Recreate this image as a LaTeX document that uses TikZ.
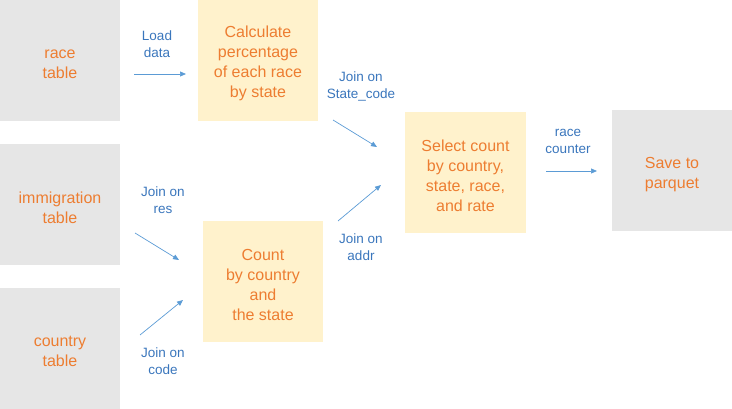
\documentclass[tikz,border=0pt]{standalone}
\usepackage{fontspec}
\setmainfont{Liberation Sans}
\usetikzlibrary{arrows.meta}
\definecolor{boxgray}{HTML}{E6E6E6}
\definecolor{boxyellow}{HTML}{FFF2CC}
\definecolor{txtorange}{HTML}{ED7D31}
\definecolor{txtblue}{HTML}{3A76BC}
\definecolor{arrblue}{HTML}{5B9BD5}
\tikzset{
  src/.style={fill=boxgray, draw=none, minimum width=120pt, minimum height=121pt, inner sep=0pt},
  proc/.style={fill=boxyellow, draw=none, minimum width=120pt, minimum height=121pt, inner sep=0pt},
  boxtxt/.style={text=txtorange, align=center, inner sep=0pt, font=\fontsize{16}{20}\selectfont},
  lbl/.style={text=txtblue, align=center, inner sep=0pt, font=\fontsize{13.5}{17}\selectfont},
  flow/.style={draw=arrblue, line width=0.7pt, -{Triangle[length=6pt,width=5pt]}}
}
\begin{document}
\begin{tikzpicture}[x=1pt,y=-1pt]
\useasboundingbox (0,0) rectangle (732,409);
% boxes
\node[src] (race) at (60,60.5) {};
\node[src] (immig) at (60,204.5) {};
\node[src] (country) at (60,348.5) {};
\node[proc] (calc) at (258,60.5) {};
\node[proc] (count) at (263,281.5) {};
\node[proc, minimum width=121pt] (select) at (465.5,172.5) {};
\node[src] (save) at (672,171) {};
% box texts
\node[boxtxt] (racet) at ([yshift=-3.5pt]race.center) {race\\table};
\node[boxtxt] (immigt) at ([yshift=-3pt]immig.center) {immigration\\table};
\node[boxtxt] (countryt) at ([yshift=-3pt]country.center) {country\\table};
\node[boxtxt] (calct) at ([yshift=-3pt]calc.center) {Calculate\\percentage\\of each race\\by state};
\node[boxtxt] (countt) at ([yshift=-3pt]count.center) {Count\\by country\\and\\the state};
\node[boxtxt] (selectt) at ([yshift=-3pt]select.center) {Select count\\by country,\\state, race,\\and rate};
\node[boxtxt] (savet) at ([yshift=-3.5pt]save.center) {Save to\\parquet};
% labels
\node[lbl] (lload) at (157,44) {Load\\data};
\node[lbl] (lstate) at (361,86) {Join on\\State\_code};
\node[lbl] (laddr) at (361,247) {Join on\\addr};
\node[lbl] (lcounter) at (568,141) {race\\counter};
\node[lbl] (lres) at (163,200.5) {Join on\\res};
\node[lbl] (lcode) at (163,361) {Join on\\code};
% arrow endpoints
\coordinate (a1s) at (134,74);  \coordinate (a1e) at (186,74);
\coordinate (a2s) at (333,120); \coordinate (a2e) at (377,147);
\coordinate (a3s) at (338,221); \coordinate (a3e) at (381,185);
\coordinate (a4s) at (546,171); \coordinate (a4e) at (597,171);
\coordinate (a5s) at (135,233); \coordinate (a5e) at (179,260);
\coordinate (a6s) at (140,335); \coordinate (a6e) at (183,300);
\draw[flow] (a1s) -- (a1e);
\draw[flow] (a2s) -- (a2e);
\draw[flow] (a3s) -- (a3e);
\draw[flow] (a4s) -- (a4e);
\draw[flow] (a5s) -- (a5e);
\draw[flow] (a6s) -- (a6e);
\end{tikzpicture}
\end{document}
